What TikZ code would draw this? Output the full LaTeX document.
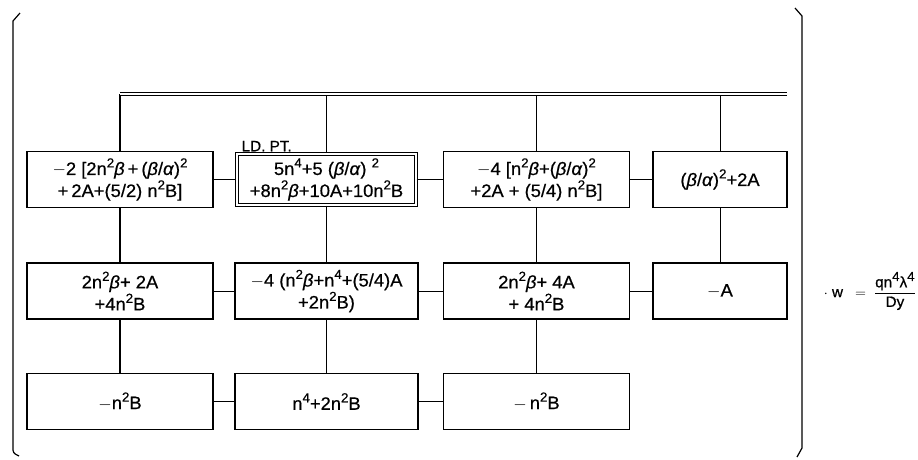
\documentclass[tikz,border=0pt]{standalone}
\usepackage{fontspec}
\setmainfont{Liberation Sans}[FakeStretch=1.02,FakeBold=0.6]
\usetikzlibrary{positioning}
\newcommand{\bet}{\textit{β}}
\newcommand{\alp}{\textit{α}}
\newcommand{\sq}{\raisebox{0.42em}{\fontsize{13}{13}\selectfont 2}}
\newcommand{\fr}{\raisebox{0.42em}{\fontsize{13}{13}\selectfont 4}}
\tikzset{
  cell/.style ={draw,line width=1.3pt,minimum height=56pt,align=center,inner sep=2pt,
                font=\fontsize{18}{22}\selectfont},
  wcell/.style={cell,minimum width=186pt},
  ncell/.style={cell,minimum width=134pt},
  ldcell/.style={cell,double,double distance=2.2pt,line width=1.1pt,
                 minimum width=179pt,minimum height=51pt},
  link/.style ={draw,line width=1pt},
  spine/.style={draw,line width=2.2pt},
  bus/.style  ={draw,double,double distance=2.6pt,line width=1pt},
  brk/.style  ={draw,line width=1.2pt},
  lbl/.style  ={font=\fontsize{15}{17}\selectfont,inner sep=1pt},
  eq/.style   ={font=\fontsize{15}{17}\selectfont,inner sep=0pt},
}
\begin{document}
\begin{tikzpicture}[x=1pt,y=1pt]
\useasboundingbox (0,0) rectangle (918,-459);

% brackets
\draw[brk] (20,-13) -- (13,-21) -- (13,-447) .. controls (13,-453) .. (19,-456);
\draw[brk] (795,-8) -- (802,-16) -- (802,-448) -- (797,-457);

% first row
\node[wcell] (r1c1) at (120,-179.5)
  {$-$2 [2n\sq\bet\,+\,(\bet/\alp)\sq\\+\,2A+(5/2) n\sq B]};
\node[ldcell] (r1c2) at (326.5,-179.5)
  {5n\fr+5 (\bet/\alp) \sq\\+8n\sq\bet+10A+10n\sq B};
\node[wcell] (r1c3) at (536.5,-179.5)
  {$-$4 [n\sq\bet+(\bet/\alp)\sq\\+2A + (5/4) n\sq B]};
\node[ncell] (r1c4) at (720,-179.5)
  {(\bet/\alp)\sq+2A};
\node[lbl,anchor=south west] (ldpt) at ([xshift=4pt,yshift=1pt]r1c2.north west) {LD. PT.};

% second row
\node[wcell] (r2c1) at (120,-291) {2n\sq\bet + 2A\\+4n\sq B};
\node[wcell,minimum width=183pt] (r2c2) at (326.5,-291)
  {$-$4 (n\sq\bet+n\fr+(5/4)A\\+2n\sq B)};
\node[wcell] (r2c3) at (536.5,-291) {2n\sq\bet + 4A\\+ 4n\sq B};
\node[ncell] (r2c4) at (720,-291) {$-$A};

% third row
\node[wcell] (r3c1) at (120,-401.5) {$-$n\sq B};
\node[wcell,minimum width=183pt] (r3c2) at (326.5,-401.5) {n\fr+2n\sq B};
\node[wcell] (r3c3) at (536.5,-401.5) {$-$\,n\sq B};

% load line
\coordinate (busL) at (120,-94);
\coordinate (busR) at (787,-94);
\draw[spine] (busL) -- (r1c1.north);
\draw[spine] (r1c1) -- (r2c1);
\draw[spine] (r2c1) -- (r3c1);
\foreach \c in {2,3,4}
  \draw[link] (r1c\c.north |- busL) -- (r1c\c.north);
\foreach \c in {2,3,4}
  \draw[link] (r1c\c) -- (r2c\c);
\foreach \c in {2,3}
  \draw[link] (r2c\c) -- (r3c\c);
\draw[bus] (busL) -- (busR);

% horizontal links
\draw[link] (r1c1) -- (r1c2);
\draw[link] (r1c2) -- (r1c3);
\draw[link] (r1c3) -- (r1c4);
\draw[link] (r2c1) -- (r2c2);
\draw[link] (r2c2) -- (r2c3);
\draw[link] (r2c3) -- (r2c4);
\draw[link] (r3c1) -- (r3c2);
\draw[link] (r3c2) -- (r3c3);

\node[eq,anchor=east] (weq) at (916,-291)
  {$\cdot\;\mbox{w}\;\;=\;\displaystyle\frac{\mbox{qn\fr λ\fr}}{\mbox{Dy}}$};
\end{tikzpicture}
\end{document}
